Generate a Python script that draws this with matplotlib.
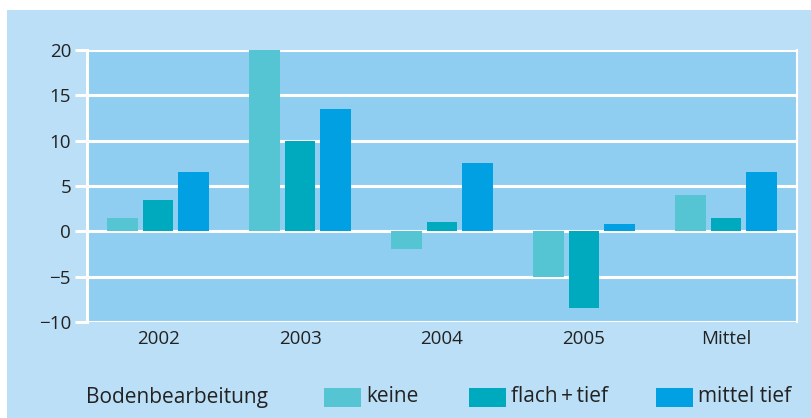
import matplotlib.pyplot as plt
from matplotlib.patches import Rectangle
import numpy as np

# Data
groups = ["2002", "2003", "2004", "2005", "Mittel"]
keine = [1.5, 20, -2, -5, 4]
flach_tief = [3.5, 10, 1, -8.5, 1.5]
mittel_tief = [6.5, 13.5, 7.5, 0.8, 6.5]

series_names = ["keine", "flach\u2009+\u2009tief", "mittel tief"]
colors = ["#55C4D3", "#00AABE", "#00A0E3"]
yticks = [-10, -5, 0, 5, 10, 15, 20]
yticklabels = ["\u221210", "\u22125", "0", "5", "10", "15", "20"]

outer_bg = "#BBDFF6"
inner_bg = "#8FCEF1"
text_col = "#222222"

plt.rcParams['font.family'] = ['Open Sans', 'DejaVu Sans']

fig = plt.figure(figsize=(8.11, 4.18), dpi=100)
fig.patch.set_facecolor("white")
# light blue panel behind everything (white margin top and left)
fig.patches.append(Rectangle((7 / 811, 0), 1, 1 - 10 / 418, transform=fig.transFigure,
                             facecolor=outer_bg, edgecolor="none", zorder=-5))

ax = fig.add_axes([87 / 811, 96 / 418, 710 / 811, 272 / 418])
ax.set_facecolor(inner_bg)

x = np.arange(len(groups))
width = 0.218
offsets = [-0.25, 0, 0.25]
for vals, off, col in zip([keine, flach_tief, mittel_tief], offsets, colors):
    ax.bar(x + off, vals, width, color=col, zorder=3)

ax.set_xlim(-0.5, len(groups) - 0.5)
ax.set_ylim(-10, 20)
ax.set_yticks(yticks)
ax.set_yticklabels(yticklabels)
ax.set_xticks(x)
ax.set_xticklabels(groups)

ax.grid(axis="y", color="white", linewidth=2.2, zorder=1)
ax.set_axisbelow(True)
ax.tick_params(axis="y", direction="out", length=8.5, width=2.2, color="white",
               labelsize=13.5, labelcolor=text_col, pad=3)
ax.tick_params(axis="x", length=0, labelsize=13.5, labelcolor=text_col, pad=6)

for side in ["top", "bottom"]:
    ax.spines[side].set_visible(False)
ax.spines["left"].set_color("white")
ax.spines["left"].set_linewidth(2.2)
ax.spines["right"].set_color("white")
ax.spines["right"].set_linewidth(1.5)

# legend row drawn by hand
legend_y = 1 - 397 / 418
fig.text(86 / 811, legend_y, "Bodenbearbeitung", fontsize=15, color=text_col,
         va="center", ha="left")
patch_x = [324, 469, 656]
for px, name, col in zip(patch_x, series_names, colors):
    fig.patches.append(Rectangle((px / 811, legend_y - 9.5 / 418), 37 / 811, 19 / 418,
                                 transform=fig.transFigure, facecolor=col,
                                 edgecolor="none", zorder=2))
    fig.text((px + 42) / 811, legend_y, name, fontsize=15, color=text_col,
             va="center", ha="left")

fig.savefig("out.png", dpi=100, facecolor=fig.get_facecolor())
